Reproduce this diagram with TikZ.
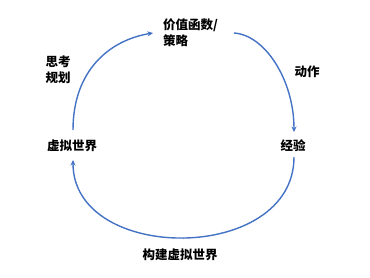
\documentclass[tikz,border=0pt]{standalone}
\usepackage{fontspec}
\newfontfamily\cjk{Noto Sans CJK SC}
\usetikzlibrary{arrows.meta}
\definecolor{arrowblue}{HTML}{4472C4}
\tikzset{
  lbl/.style={font=\cjk\bfseries\fontsize{12.5bp}{16bp}\selectfont, inner sep=0pt, text=black},
  cyc/.style={draw=arrowblue, line width=1.4bp, -{Stealth[length=5.5bp,width=5bp]}}
}
\begin{document}
\begin{tikzpicture}[x=1bp,y=-1bp]
\useasboundingbox (0,0) rectangle (370,278);
\fill[white] (0,0) rectangle (370,278);
\node[lbl, anchor=north west, align=left] (top) at (163,19) {价值函数/\\策略};
\node[lbl] (left) at (72,146) {虚拟世界};
\node[lbl] (right) at (293,146) {经验};
\node[lbl] (bottom) at (180,255) {构建虚拟世界};
\node[lbl, align=left] (think) at (58,70) {思考\\规划};
\node[lbl] (act) at (307,72) {动作};
\coordinate (a1s) at (73,130);
\coordinate (a1e) at (153,33);
\coordinate (a2s) at (234,33);
\coordinate (a2e) at (294,132);
\coordinate (a3s) at (294,157);
\coordinate (a3e) at (73,160);
\draw[cyc] (a1s) .. controls (73,70) and (110,40) .. (a1e);
\draw[cyc] (a2s) .. controls (265,35) and (294,80) .. (a2e);
\draw[cyc] (a3s) .. controls (294,264) and (73,264) .. (a3e);
\end{tikzpicture}
\end{document}
